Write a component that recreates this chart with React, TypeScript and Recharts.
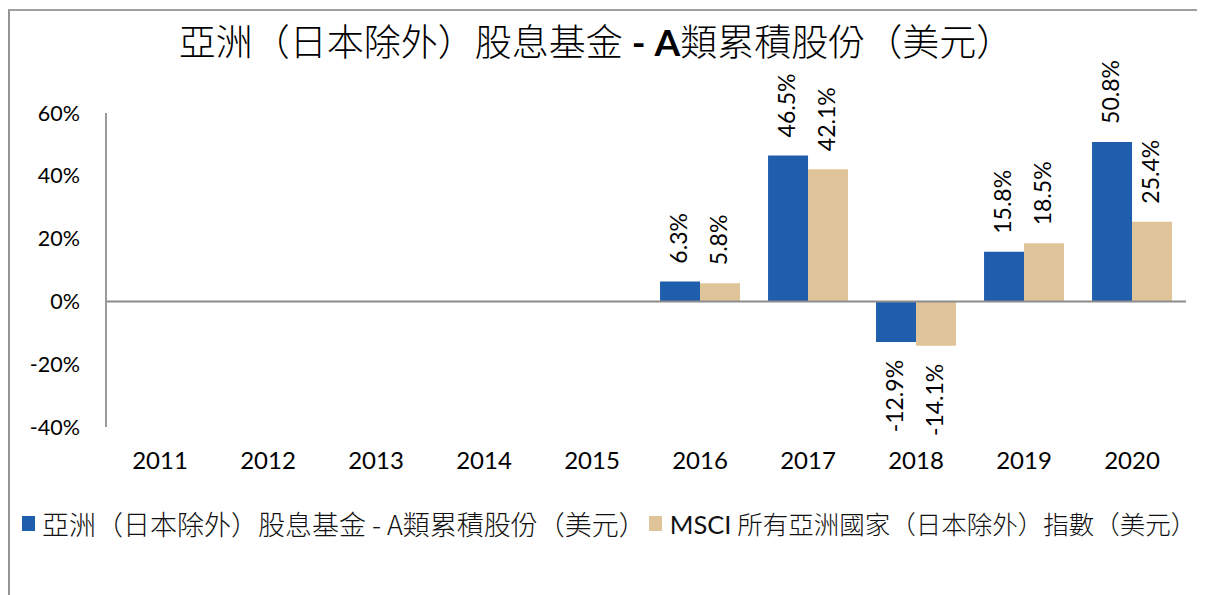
import React from 'react';
import { BarChart, Bar, XAxis, YAxis, ReferenceLine, LabelList, Legend, Customized } from 'recharts';

const years = ['2011', '2012', '2013', '2014', '2015', '2016', '2017', '2018', '2019', '2020'];
const fundReturns: (number | null)[] = [null, null, null, null, null, 6.3, 46.5, -12.9, 15.8, 50.8];
const indexReturns: (number | null)[] = [null, null, null, null, null, 5.8, 42.1, -14.1, 18.5, 25.4];
const yTicks = [-40, -20, 0, 20, 40, 60];
const seriesNames = [
  '亞洲（日本除外）股息基金 - A類累積股份（美元）',
  'MSCI 所有亞洲國家（日本除外）指數（美元）',
];
const titlePre = '亞洲（日本除外）股息基金';
const titleBold = ' - A';
const titlePost = '類累積股份（美元）';

const BLUE = '#1F5EAC';
const TAN = '#E0C499';
const FONT = "Lato, 'Noto Sans CJK TC', sans-serif";
const CJK = "'Noto Sans CJK TC', Lato, sans-serif";

const data = years.map((y, i) => ({ year: y, fund: fundReturns[i], index: indexReturns[i] }));

const makeLabel = (props: any) => {
  const { x, y, width, height, value } = props;
  if (value === null || value === undefined) return null;
  const cx = Number(x) + Number(width) / 2 - 2;
  const top = Math.min(Number(y), Number(y) + Number(height));
  const bottom = Math.max(Number(y), Number(y) + Number(height));
  const gap = 18;
  const text = `${Number(value).toFixed(1)}%`;
  if (value >= 0) {
    const ty = top - gap;
    return (
      <text x={cx} y={ty} transform={`rotate(-90 ${cx} ${ty})`} textAnchor="start" dominantBaseline="central"
        fontSize={23} fontFamily={FONT} fill="#000">{text}</text>
    );
  }
  const ty = bottom + gap;
  return (
    <text x={cx} y={ty} transform={`rotate(-90 ${cx} ${ty})`} textAnchor="end" dominantBaseline="central"
      fontSize={23} fontFamily={FONT} fill="#000">{text}</text>
  );
};

const Title = () => (
  <text x={588} y={48} textAnchor="middle" fontSize={37} fill="#000" fontFamily={CJK} fontWeight={300}>
    <tspan>{titlePre}</tspan>
    <tspan fontFamily={FONT} fontWeight="bold">{titleBold}</tspan>
    <tspan>{titlePost}</tspan>
  </text>
);

const renderLegend = () => (
  <div style={{ display: 'flex', alignItems: 'center', fontFamily: CJK, fontWeight: 300, color: '#111', whiteSpace: 'nowrap', lineHeight: '30px' }}>
    <span style={{ display: 'inline-block', width: 13, height: 15, background: BLUE, marginRight: 7 }} />
    <span style={{ fontSize: 27 }}>{seriesNames[0]}</span>
    <span style={{ display: 'inline-block', width: 13, height: 15, background: TAN, marginLeft: 3, marginRight: 8 }} />
    <span style={{ fontSize: 25.5 }}><span style={{ fontFamily: "Lato, sans-serif", fontWeight: 'normal' }}>MSCI</span>{seriesNames[1].slice(4)}</span>
  </div>
);

export default function App() {
  return (
    <div style={{ position: 'relative', width: 1197, height: 587 }}>
      <div style={{ position: 'absolute', left: 0, top: 1, width: 1197, height: 586, borderLeft: '2px solid #959595', borderTop: '2px solid #a0a0a0', boxSizing: 'border-box' }} />
      <div style={{ position: 'absolute', left: 0, top: 0 }}>
        <BarChart width={1197} height={587} data={data} margin={{ top: 105, right: 19, bottom: 108, left: 0 }}
          barCategoryGap="13%" barGap={0}>
          <Customized component={Title} />
          <XAxis dataKey="year" axisLine={false} tickLine={false} tickSize={0} tickMargin={25} height={60}
            tick={{ fontSize: 24, fontFamily: FONT, fill: '#000' }} interval={0} />
          <YAxis domain={[-40, 60]} ticks={yTicks} width={98} tickLine={false} tickSize={0} tickMargin={26}
            axisLine={{ stroke: '#9a9a9a', strokeWidth: 2 }} tickFormatter={(v: number) => `${v}%`}
            tick={{ fontSize: 21.5, fontFamily: FONT, fill: '#000' }} allowDataOverflow />
          <Bar dataKey="fund" name={seriesNames[0]} fill={BLUE} isAnimationActive={false}>
            <LabelList dataKey="fund" content={makeLabel} />
          </Bar>
          <Bar dataKey="index" name={seriesNames[1]} fill={TAN} isAnimationActive={false}>
            <LabelList dataKey="index" content={makeLabel} />
          </Bar>
          <ReferenceLine y={0} stroke="#8c8c8c" strokeWidth={2} ifOverflow="extendDomain" />
          <Legend layout="horizontal" verticalAlign="middle" align="center" content={renderLegend}
            wrapperStyle={{ left: 14, top: 500, width: 'auto' }} />
        </BarChart>
      </div>
    </div>
  );
}
